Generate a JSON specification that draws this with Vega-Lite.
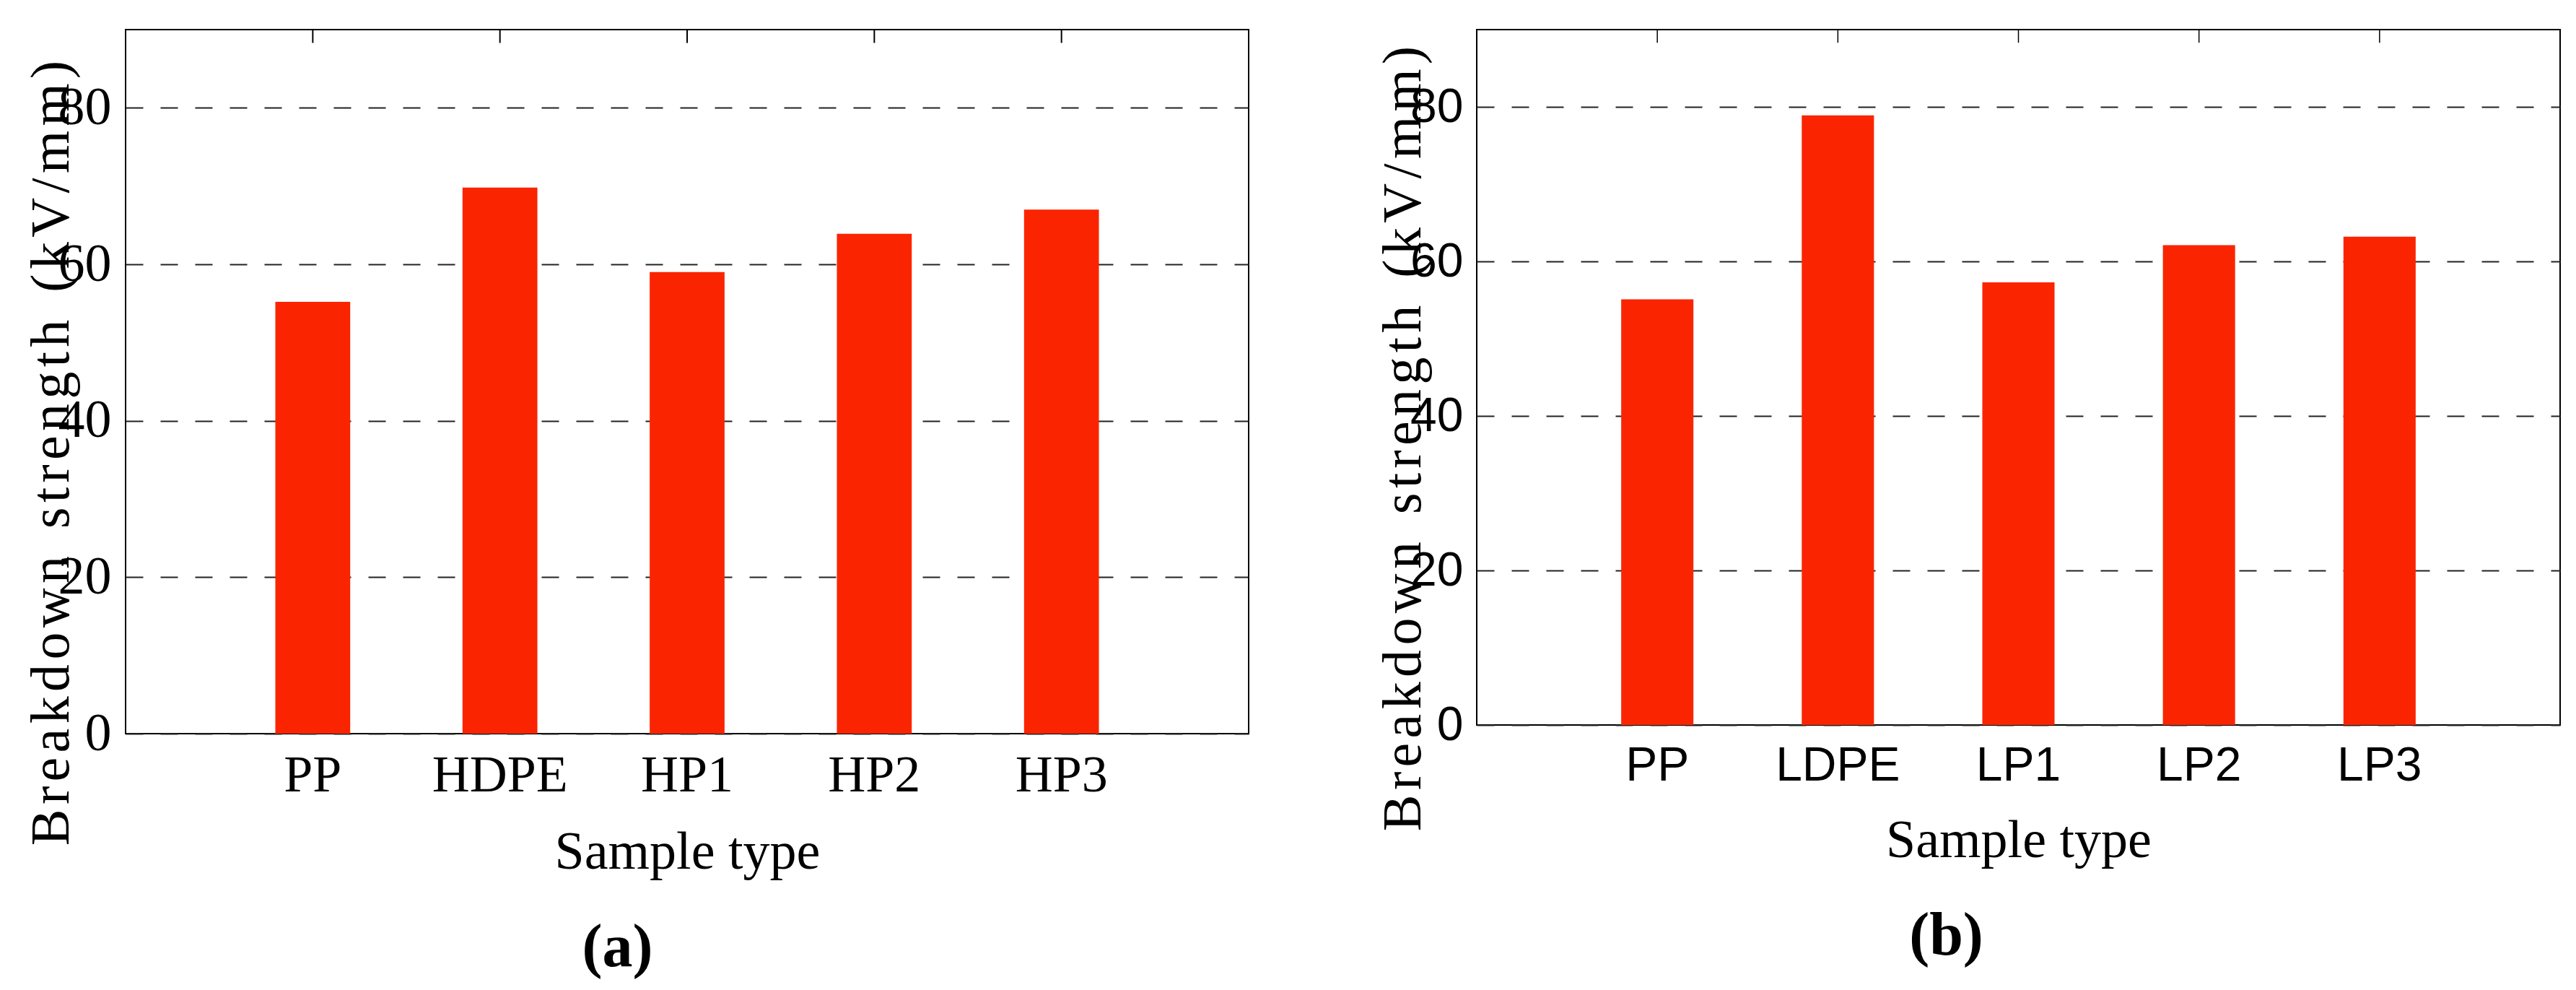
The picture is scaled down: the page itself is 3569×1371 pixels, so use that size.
{
  "$schema": "https://vega.github.io/schema/vega-lite/v6.json",
  "background": "white",
  "padding": {"left": 32, "top": 39, "right": 20, "bottom": 0},
  "autosize": {"type": "pad"},
  "spacing": 173,
  "config": {
    "view": {"stroke": "black", "strokeWidth": 2},
    "title": {"color": "black"}
  },
  "hconcat": [
    {
      "width": 1556,
      "height": 975,
      "data": {"values": [
        {"sample": "PP", "strength": 55.2},
        {"sample": "HDPE", "strength": 69.8},
        {"sample": "HP1", "strength": 59.0},
        {"sample": "HP2", "strength": 63.9},
        {"sample": "HP3", "strength": 67.0}
      ]},
      "title": {"text": "(a)", "orient": "bottom", "anchor": "middle", "frame": "bounds", "font": "Liberation Serif", "fontSize": 84, "fontWeight": "bold", "offset": 55, "dx": -26, "color": "black"},
      "layer": [
        {
          "mark": {"type": "bar", "color": "#fa2500"},
          "encoding": {
            "x": {"field": "sample", "type": "nominal", "sort": null,
              "scale": {"paddingInner": 0.6, "paddingOuter": 0.8},
              "axis": {"orient": "bottom", "title": "Sample type", "titleFont": "Liberation Serif", "titleFontSize": 74, "titleFontWeight": "normal", "titleColor": "black", "titlePadding": 35,
                "labelFont": "Liberation Serif", "labelFontSize": 72, "labelColor": "black", "labelAngle": 0, "labelPadding": 22, "labelLimit": 0, "ticks": false, "domain": false}},
            "y": {"field": "strength", "type": "quantitative",
              "scale": {"domain": [0, 90], "nice": false},
              "axis": {"orient": "left", "values": [0, 20, 40, 60, 80], "grid": true, "gridDash": [24, 24], "gridColor": "#222222", "gridWidth": 2, "ticks": false, "domain": false,
                "labelFont": "Liberation Serif", "labelFontSize": 74, "labelColor": "black", "labelPadding": 20,
                "title": "B\u200ar\u200ae\u200aa\u200ak\u200ad\u200ao\u200aw\u200an\u00a0\u00a0s\u200at\u200ar\u200ae\u200an\u200ag\u200at\u200ah\u00a0\u00a0(\u200ak\u200aV\u200a/\u200am\u200am\u200a)",
                "titleFont": "Liberation Serif", "titleFontSize": 76, "titleFontWeight": "normal", "titleColor": "black", "titleAngle": -90, "titleX": -80, "titleY": 586, "titleAlign": "center", "titleBaseline": "alphabetic"}}
          }
        },
        {
          "mark": {"type": "rule", "color": "black", "strokeWidth": 2},
          "encoding": {
            "x": {"field": "sample", "type": "nominal", "sort": null},
            "y": {"datum": 90},
            "y2": {"datum": 88.3}
          }
        }
      ]
    },
    {
      "width": 1501,
      "height": 963,
      "data": {"values": [
        {"sample": "PP", "strength": 55.1},
        {"sample": "LDPE", "strength": 78.9},
        {"sample": "LP1", "strength": 57.3},
        {"sample": "LP2", "strength": 62.1},
        {"sample": "LP3", "strength": 63.2}
      ]},
      "title": {"text": "(b)", "orient": "bottom", "anchor": "middle", "frame": "bounds", "font": "Liberation Serif", "fontSize": 84, "fontWeight": "bold", "offset": 55, "dx": -30, "color": "black"},
      "layer": [
        {
          "mark": {"type": "bar", "color": "#fa2500"},
          "encoding": {
            "x": {"field": "sample", "type": "nominal", "sort": null,
              "scale": {"paddingInner": 0.6, "paddingOuter": 0.8},
              "axis": {"orient": "bottom", "title": "Sample type", "titleFont": "Liberation Serif", "titleFontSize": 74, "titleFontWeight": "normal", "titleColor": "black", "titlePadding": 35,
                "labelFont": "Liberation Sans", "labelFontSize": 66, "labelColor": "black", "labelAngle": 0, "labelPadding": 24, "labelLimit": 0, "ticks": false, "domain": false}},
            "y": {"field": "strength", "type": "quantitative",
              "scale": {"domain": [0, 90], "nice": false},
              "axis": {"orient": "left", "values": [0, 20, 40, 60, 80], "grid": true, "gridDash": [24, 24], "gridColor": "#222222", "gridWidth": 2, "ticks": false, "domain": false,
                "labelFont": "Liberation Sans", "labelFontSize": 66, "labelColor": "black", "labelPadding": 19,
                "title": "B\u200ar\u200ae\u200aa\u200ak\u200ad\u200ao\u200aw\u200an\u00a0\u00a0s\u200at\u200ar\u200ae\u200an\u200ag\u200at\u200ah\u00a0\u00a0(\u200ak\u200aV\u200a/\u200am\u200am\u200a)",
                "titleFont": "Liberation Serif", "titleFontSize": 76, "titleFontWeight": "normal", "titleColor": "black", "titleAngle": -90, "titleX": -79, "titleY": 566, "titleAlign": "center", "titleBaseline": "alphabetic"}}
          }
        },
        {
          "mark": {"type": "rule", "color": "black", "strokeWidth": 1.5},
          "encoding": {
            "x": {"field": "sample", "type": "nominal", "sort": null},
            "y": {"datum": 90},
            "y2": {"datum": 88.3}
          }
        }
      ]
    }
  ]
}
